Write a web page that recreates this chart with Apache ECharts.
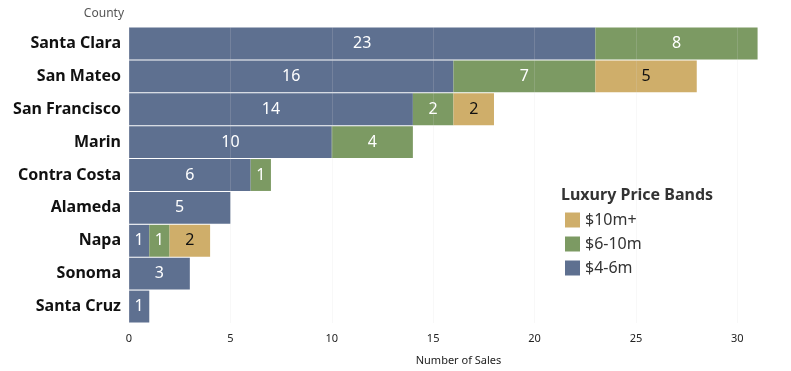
<!DOCTYPE html>
<html><head><meta charset="utf-8">
<script src="https://cdn.jsdelivr.net/npm/echarts@6/dist/echarts.min.js"></script>
<style>html,body{margin:0;padding:0;background:#fff}#c{width:791px;height:371px}</style>
</head><body><div id="c"></div>
<script>
const counties = ["Santa Clara","San Mateo","San Francisco","Marin","Contra Costa","Alameda","Napa","Sonoma","Santa Cruz"];
const band4to6 = [23,16,14,10,6,5,1,3,1];
const band6to10 = [8,7,2,4,1,null,1,null,null];
const band10plus = [null,5,2,null,null,null,2,null,null];
const xTicks = [0,5,10,15,20,25,30];

const FONT = "'Noto Sans', Roboto, sans-serif";
const chart = echarts.init(document.getElementById('c'), null, {renderer:'canvas'});
function lbl(color){return {show:true,position:'inside',color:color,fontSize:16,fontFamily:FONT,formatter:p=>p.value==null?'':String(p.value)};}
chart.setOption({
  animation:false,
  grid:{left:129,top:27,right:2,bottom:45,containLabel:false},
  xAxis:{type:'value',min:0,max:32.5,interval:5,
    axisLine:{show:false},axisTick:{show:false},
    splitLine:{show:true,showMaxLine:false,lineStyle:{color:'rgba(215,215,215,0.18)',width:1}},
    axisLabel:{color:'#222',fontSize:11,fontFamily:FONT,margin:10,
      formatter:v=>xTicks.includes(v)?String(v):''},
    name:'Number of Sales',nameLocation:'middle',nameGap:32,
    nameTextStyle:{color:'#222',fontSize:11,fontFamily:FONT},z:3},
  yAxis:{type:'category',data:counties,inverse:true,
    axisLine:{show:false},axisTick:{show:false},
    axisLabel:{color:'#111',fontSize:16,fontWeight:'bold',fontFamily:FONT,margin:8}},
  legend:{orient:'vertical',left:560,top:207,itemWidth:15,itemHeight:15,itemGap:8,
    icon:'rect',data:['$10m+','$6-10m','$4-6m'],
    textStyle:{color:'#333',fontSize:16,fontFamily:FONT,padding:[0,0,0,0]}},
  graphic:[
    {type:'text',left:561,top:187,style:{text:'Luxury Price Bands',fill:'#333',font:"bold 16px "+FONT}},
    {type:'text',right:667,top:8,style:{text:'County',fill:'#555',font:"12px "+FONT,textAlign:'right'}}
  ],
  series:[
    {name:'$4-6m',type:'bar',stack:'s',data:band4to6,barCategoryGap:'3%',
      itemStyle:{color:'#5e7090'},label:lbl('#fff')},
    {name:'$6-10m',type:'bar',stack:'s',data:band6to10,barCategoryGap:'3%',
      itemStyle:{color:'#7c9a63'},label:lbl('#fff')},
    {name:'$10m+',type:'bar',stack:'s',data:band10plus,barCategoryGap:'3%',
      itemStyle:{color:'#cfae6a'},label:lbl('#111')}
  ]
});
</script></body></html>
